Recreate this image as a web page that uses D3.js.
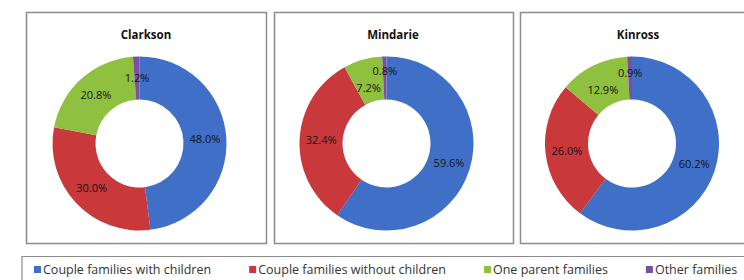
<!DOCTYPE html>
<html>
<head>
<meta charset="utf-8">
<script src="https://cdn.jsdelivr.net/npm/d3@7"></script>
<style>
  body { margin: 0; background: #fff; }
  svg { display: block; font-family: "Open Sans", Lato, sans-serif; }
</style>
</head>
<body>
<div id="chart"></div>
<script>
(function() {
  var suburbs = ['Clarkson', 'Mindarie', 'Kinross'];
  var categories = ['Couple families with children', 'Couple families without children', 'One parent families', 'Other families'];
  var clarkson = [48.0, 30.0, 20.8, 1.2];
  var mindarie = [59.6, 32.4, 7.2, 0.8];
  var kinross = [60.2, 26.0, 12.9, 0.9];
  var seriesValues = [clarkson, mindarie, kinross];
  var colours = ['#3f6fc6', '#c9383a', '#8fc040', '#7b4fa3'];

  var width = 744, height = 280;
  var svg = d3.select('#chart').append('svg')
    .attr('width', width)
    .attr('height', height);

  // panel boxes: [left, right] per suburb
  var panelEdges = [[26, 266], [274, 513], [520, 760]];
  var panelTop = 12.5, panelBottom = 243.5;
  var outerR = 87, innerR = 44;
  var colour = d3.scaleOrdinal().domain(categories).range(colours);

  var pie = d3.pie().sort(null).value(function(d) { return d.value; });
  var arc = d3.arc().innerRadius(innerR).outerRadius(outerR);

  suburbs.forEach(function(name, i) {
    var edges = panelEdges[i];
    var g = svg.append('g');

    g.append('rect')
      .attr('x', edges[0] + 0.5)
      .attr('y', panelTop)
      .attr('width', edges[1] - edges[0])
      .attr('height', panelBottom - panelTop)
      .attr('fill', '#fff')
      .attr('stroke', '#8c8c8c')
      .attr('stroke-width', 1.5);

    var cx = [139.5, 386.5, 632][i], cy = 143.5;

    g.append('text')
      .attr('x', [146, 393, 638][i])
      .attr('y', 39)
      .attr('text-anchor', 'middle')
      .attr('font-weight', 'bold')
      .attr('font-size', 11.5)
      .attr('fill', '#111')
      .text(name);

    var data = seriesValues[i].map(function(v, j) { return { cat: categories[j], value: v }; });
    var arcs = pie(data);

    var donut = g.append('g').attr('transform', 'translate(' + cx + ',' + cy + ')');
    donut.selectAll('path.slice').data(arcs).enter()
      .append('path')
      .attr('class', 'slice')
      .attr('d', arc)
      .attr('fill', function(d) { return colour(d.data.cat); });

    // labels start at the ring centroid, then get nudged apart when they collide
    var labels = arcs.map(function(d) {
      var c = arc.centroid(d);
      return { x: c[0], y: c[1], text: d.data.value.toFixed(1) + '%', h: 13 };
    });
    var texts = donut.selectAll('text.lbl').data(labels).enter()
      .append('text')
      .attr('class', 'lbl')
      .attr('text-anchor', 'middle')
      .attr('dy', '0.35em')
      .attr('font-size', 11)
      .attr('fill', '#141414')
      .text(function(d) { return d.text; });
    texts.each(function(d) { d.w = this.getComputedTextLength(); });

    for (var k = 0; k < 5; k++) {
      for (var a = 0; a < labels.length; a++) {
        for (var b = a + 1; b < labels.length; b++) {
          var la = labels[a], lb = labels[b];
          var ox = (la.w + lb.w) / 2 - Math.abs(la.x - lb.x);
          var oy = (la.h + lb.h) / 2 - Math.abs(la.y - lb.y);
          if (ox > 0 && oy > 0) {
            var up = la.y < lb.y ? la : lb, down = up === la ? lb : la;
            up.y -= oy / 2 + 2;
            down.y += oy / 2 + 2;
          }
        }
      }
    }

    texts
      .attr('x', function(d) { return d.x; })
      .attr('y', function(d) { return d.y; });
  });

  // legend
  var legend = svg.append('g');
  legend.append('path')
    .attr('d', 'M22,284V256.5H760')
    .attr('fill', 'none')
    .attr('stroke', '#8c8c8c')
    .attr('stroke-width', 1.2);

  var legendY = 270;
  var xPos = 34;
  categories.forEach(function(cat) {
    var item = legend.append('g').attr('transform', 'translate(' + xPos + ',' + legendY + ')');
    item.append('rect')
      .attr('x', 0)
      .attr('y', -4)
      .attr('width', 7)
      .attr('height', 7)
      .attr('fill', colour(cat));
    var t = item.append('text')
      .attr('x', 9)
      .attr('y', 0)
      .attr('dy', '0.35em')
      .attr('font-size', 12.5)
      .attr('fill', '#333')
      .text(cat);
    xPos += 9 + t.node().getComputedTextLength() + 38;
  });
})();
</script>
</body>
</html>
